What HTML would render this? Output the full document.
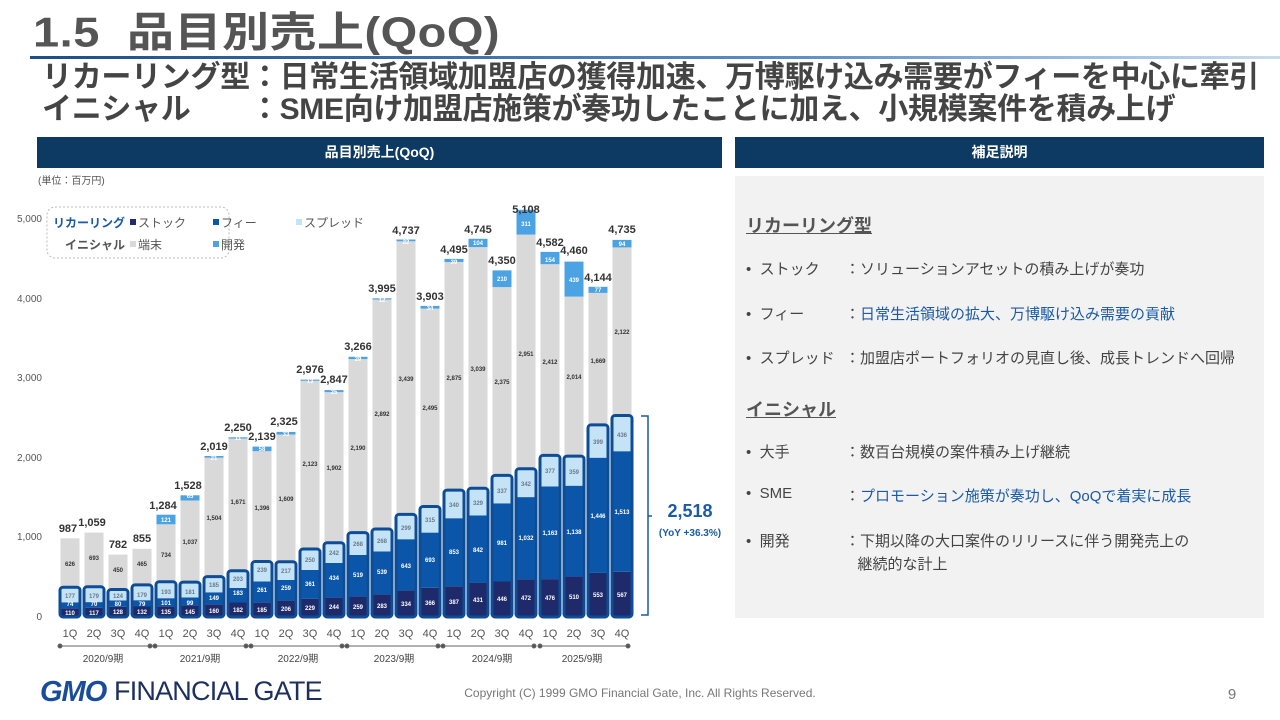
<!DOCTYPE html>
<html><head><meta charset="utf-8"><style>
*{margin:0;padding:0;box-sizing:border-box}
body{width:1280px;height:720px;background:#fff;position:relative;overflow:hidden;font-family:"Liberation Sans","Noto Sans CJK JP",sans-serif;color:#444}
.a{position:absolute;white-space:nowrap}
.hdr{position:absolute;background:#0d3a63;color:#fff;font-weight:bold;font-size:14px;text-align:center;line-height:31px}
.r{font-size:15px;color:#444}
.b{color:#1a5aa8}
</style></head><body>
<div class="a" style="left:33px;top:-2px;font-size:47px;font-weight:bold;color:#555;letter-spacing:0.5px;transform:scaleY(0.88);transform-origin:0 0">1.5&nbsp;&nbsp;品目別売上(QoQ)</div>
<div class="a" style="left:30px;top:56px;width:1250px;height:3px;background:linear-gradient(90deg,#1b4f8a,#5a8cc6 60%,#c8dcf0)"></div>
<div class="a" style="left:42px;top:62px;font-size:30px;font-weight:bold;color:#444;line-height:32px;letter-spacing:-0.3px">リカーリング型：日常生活領域加盟店の獲得加速、万博駆け込み需要がフィーを中心に牽引<br>イニシャル　　：SME向け加盟店施策が奏功したことに加え、小規模案件を積み上げ</div>
<div class="hdr" style="left:37px;top:137px;width:685px;height:31px">品目別売上(QoQ)</div>
<div class="hdr" style="left:735px;top:137px;width:529px;height:31px">補足説明</div>
<div class="a" style="left:38px;top:172px;font-size:10px;color:#555">(単位：百万円)</div>
<div class="a" style="left:735px;top:176px;width:529px;height:442px;background:#f2f2f2"></div>
<div class="a" style="left:746px;top:212px;font-size:18px;font-weight:bold;text-decoration:underline;color:#555">リカーリング型</div>
<div class="a r" style="left:746px;top:258px">•&nbsp; ストック</div><div class="a r" style="left:845px;top:258px">：ソリューションアセットの積み上げが奏功</div>
<div class="a r" style="left:746px;top:303px">•&nbsp; フィー</div><div class="a r" style="left:845px;top:303px">：<span class="b">日常生活領域の拡大、万博駆け込み需要の貢献</span></div>
<div class="a r" style="left:746px;top:347px">•&nbsp; スプレッド</div><div class="a r" style="left:845px;top:347px">：加盟店ポートフォリオの見直し後、成長トレンドへ回帰</div>
<div class="a" style="left:746px;top:396px;font-size:18px;font-weight:bold;text-decoration:underline;color:#555">イニシャル</div>
<div class="a r" style="left:746px;top:441px">•&nbsp; 大手</div><div class="a r" style="left:845px;top:441px">：数百台規模の案件積み上げ継続</div>
<div class="a r" style="left:746px;top:485px">•&nbsp; SME</div><div class="a r" style="left:845px;top:485px">：<span class="b">プロモーション施策が奏功し、QoQで着実に成長</span></div>
<div class="a r" style="left:746px;top:530px">•&nbsp; 開発</div><div class="a r" style="left:845px;top:530px;line-height:23px">：下期以降の大口案件のリリースに伴う開発売上の<br>&nbsp;&nbsp;&nbsp;継続的な計上</div>

<svg class="a" style="left:0;top:0" width="1280" height="720" font-family="Liberation Sans, Noto Sans CJK JP, sans-serif">
<g font-size="10" fill="#555" text-anchor="end">
<text x="42" y="222">5,000</text><text x="42" y="302">4,000</text><text x="42" y="381">3,000</text><text x="42" y="461">2,000</text><text x="42" y="540">1,000</text><text x="42" y="620">0</text>
</g>
<rect x="47" y="207" width="182" height="51" rx="8" fill="#fff" stroke="#bbb" stroke-dasharray="2,2"/>
<g font-size="12">
<text x="53" y="227" fill="#1a5aa8" font-weight="bold">リカーリング</text>
<rect x="130" y="219" width="6" height="6" fill="#1f2a6b"/><text x="138" y="227" fill="#555">ストック</text>
<rect x="213" y="219" width="6" height="6" fill="#0b56a8"/><text x="221" y="227" fill="#555">フィー</text>
<rect x="296" y="219" width="6" height="6" fill="#c5e3f7"/><text x="304" y="227" fill="#555">スプレッド</text>
<text x="65" y="249" fill="#555" font-weight="bold">イニシャル</text>
<rect x="130" y="241" width="6" height="6" fill="#d9d9d9"/><text x="138" y="249" fill="#555">端末</text>
<rect x="213" y="241" width="6" height="6" fill="#4ba3e3"/><text x="221" y="249" fill="#555">開発</text>
</g>
<g transform="translate(0,617) scale(1,-1)">
<g>
<rect x="60.5" y="0" width="19" height="8.8" fill="#1f2a6b"/><rect x="60.5" y="8.8" width="19" height="5.9" fill="#0b56a8"/><rect x="60.5" y="14.7" width="19" height="14.1" fill="#c5e3f7"/><rect x="60.5" y="28.8" width="19" height="49.9" fill="#d9d9d9"/>
<rect x="84.5" y="0" width="19" height="9.3" fill="#1f2a6b"/><rect x="84.5" y="9.3" width="19" height="5.6" fill="#0b56a8"/><rect x="84.5" y="14.9" width="19" height="14.3" fill="#c5e3f7"/><rect x="84.5" y="29.2" width="19" height="55.2" fill="#d9d9d9"/>
<rect x="108.5" y="0" width="19" height="10.2" fill="#1f2a6b"/><rect x="108.5" y="10.2" width="19" height="6.4" fill="#0b56a8"/><rect x="108.5" y="16.6" width="19" height="9.9" fill="#c5e3f7"/><rect x="108.5" y="26.5" width="19" height="35.9" fill="#d9d9d9"/>
<rect x="132.5" y="0" width="19" height="10.5" fill="#1f2a6b"/><rect x="132.5" y="10.5" width="19" height="6.3" fill="#0b56a8"/><rect x="132.5" y="16.8" width="19" height="14.3" fill="#c5e3f7"/><rect x="132.5" y="31.1" width="19" height="37.1" fill="#d9d9d9"/>
<rect x="156.5" y="0" width="19" height="10.8" fill="#1f2a6b"/><rect x="156.5" y="10.8" width="19" height="8" fill="#0b56a8"/><rect x="156.5" y="18.8" width="19" height="15.4" fill="#c5e3f7"/><rect x="156.5" y="34.2" width="19" height="58.5" fill="#d9d9d9"/><rect x="156.5" y="92.7" width="19" height="9.6" fill="#4ba3e3"/>
<rect x="180.5" y="0" width="19" height="11.6" fill="#1f2a6b"/><rect x="180.5" y="11.6" width="19" height="7.9" fill="#0b56a8"/><rect x="180.5" y="19.5" width="19" height="14.4" fill="#c5e3f7"/><rect x="180.5" y="33.9" width="19" height="82.6" fill="#d9d9d9"/><rect x="180.5" y="116.5" width="19" height="5.2" fill="#4ba3e3"/>
<rect x="204.5" y="0" width="19" height="12.8" fill="#1f2a6b"/><rect x="204.5" y="12.8" width="19" height="11.9" fill="#0b56a8"/><rect x="204.5" y="24.7" width="19" height="14.7" fill="#c5e3f7"/><rect x="204.5" y="39.4" width="19" height="119.9" fill="#d9d9d9"/><rect x="204.5" y="159.3" width="19" height="1.7" fill="#4ba3e3"/>
<rect x="228.5" y="0" width="19" height="14.5" fill="#1f2a6b"/><rect x="228.5" y="14.5" width="19" height="14.6" fill="#0b56a8"/><rect x="228.5" y="29.1" width="19" height="16.2" fill="#c5e3f7"/><rect x="228.5" y="45.3" width="19" height="133.2" fill="#d9d9d9"/><rect x="228.5" y="178.5" width="19" height="1.2" fill="#4ba3e3"/>
<rect x="252.5" y="0" width="19" height="14.7" fill="#1f2a6b"/><rect x="252.5" y="14.7" width="19" height="20.8" fill="#0b56a8"/><rect x="252.5" y="35.5" width="19" height="19" fill="#c5e3f7"/><rect x="252.5" y="54.5" width="19" height="111.3" fill="#d9d9d9"/><rect x="252.5" y="165.8" width="19" height="4.6" fill="#4ba3e3"/>
<rect x="276.5" y="0" width="19" height="16.4" fill="#1f2a6b"/><rect x="276.5" y="16.4" width="19" height="20.6" fill="#0b56a8"/><rect x="276.5" y="37" width="19" height="17.3" fill="#c5e3f7"/><rect x="276.5" y="54.3" width="19" height="128.2" fill="#d9d9d9"/><rect x="276.5" y="182.5" width="19" height="2.6" fill="#4ba3e3"/>
<rect x="300.5" y="0" width="19" height="18.3" fill="#1f2a6b"/><rect x="300.5" y="18.3" width="19" height="28.8" fill="#0b56a8"/><rect x="300.5" y="47.1" width="19" height="19.9" fill="#c5e3f7"/><rect x="300.5" y="67" width="19" height="169.2" fill="#d9d9d9"/><rect x="300.5" y="236.2" width="19" height="1.2" fill="#4ba3e3"/>
<rect x="324.5" y="0" width="19" height="19.4" fill="#1f2a6b"/><rect x="324.5" y="19.4" width="19" height="34.6" fill="#0b56a8"/><rect x="324.5" y="54" width="19" height="19.3" fill="#c5e3f7"/><rect x="324.5" y="73.3" width="19" height="151.6" fill="#d9d9d9"/><rect x="324.5" y="224.9" width="19" height="2" fill="#4ba3e3"/>
<rect x="348.5" y="0" width="19" height="20.6" fill="#1f2a6b"/><rect x="348.5" y="20.6" width="19" height="41.4" fill="#0b56a8"/><rect x="348.5" y="62" width="19" height="21.4" fill="#c5e3f7"/><rect x="348.5" y="83.4" width="19" height="174.5" fill="#d9d9d9"/><rect x="348.5" y="257.9" width="19" height="2.3" fill="#4ba3e3"/>
<rect x="372.5" y="0" width="19" height="22.6" fill="#1f2a6b"/><rect x="372.5" y="22.6" width="19" height="43" fill="#0b56a8"/><rect x="372.5" y="65.6" width="19" height="21.4" fill="#c5e3f7"/><rect x="372.5" y="87" width="19" height="230.5" fill="#d9d9d9"/><rect x="372.5" y="317.5" width="19" height="1.2" fill="#4ba3e3"/>
<rect x="396.5" y="0" width="19" height="26.6" fill="#1f2a6b"/><rect x="396.5" y="26.6" width="19" height="51.2" fill="#0b56a8"/><rect x="396.5" y="77.8" width="19" height="23.8" fill="#c5e3f7"/><rect x="396.5" y="101.6" width="19" height="274.1" fill="#d9d9d9"/><rect x="396.5" y="375.7" width="19" height="1.8" fill="#4ba3e3"/>
<rect x="420.5" y="0" width="19" height="29.2" fill="#1f2a6b"/><rect x="420.5" y="29.2" width="19" height="55.2" fill="#0b56a8"/><rect x="420.5" y="84.4" width="19" height="25.1" fill="#c5e3f7"/><rect x="420.5" y="109.5" width="19" height="198.9" fill="#d9d9d9"/><rect x="420.5" y="308.4" width="19" height="2.7" fill="#4ba3e3"/>
<rect x="444.5" y="0" width="19" height="30.8" fill="#1f2a6b"/><rect x="444.5" y="30.8" width="19" height="68" fill="#0b56a8"/><rect x="444.5" y="98.8" width="19" height="27.1" fill="#c5e3f7"/><rect x="444.5" y="125.9" width="19" height="229.1" fill="#d9d9d9"/><rect x="444.5" y="355" width="19" height="3.1" fill="#4ba3e3"/>
<rect x="468.5" y="0" width="19" height="34.4" fill="#1f2a6b"/><rect x="468.5" y="34.4" width="19" height="67.1" fill="#0b56a8"/><rect x="468.5" y="101.5" width="19" height="26.2" fill="#c5e3f7"/><rect x="468.5" y="127.7" width="19" height="242.2" fill="#d9d9d9"/><rect x="468.5" y="369.9" width="19" height="8.3" fill="#4ba3e3"/>
<rect x="492.5" y="0" width="19" height="35.5" fill="#1f2a6b"/><rect x="492.5" y="35.5" width="19" height="78.2" fill="#0b56a8"/><rect x="492.5" y="113.7" width="19" height="26.9" fill="#c5e3f7"/><rect x="492.5" y="140.6" width="19" height="189.3" fill="#d9d9d9"/><rect x="492.5" y="329.9" width="19" height="16.7" fill="#4ba3e3"/>
<rect x="516.5" y="0" width="19" height="37.6" fill="#1f2a6b"/><rect x="516.5" y="37.6" width="19" height="82.3" fill="#0b56a8"/><rect x="516.5" y="119.9" width="19" height="27.3" fill="#c5e3f7"/><rect x="516.5" y="147.2" width="19" height="235.2" fill="#d9d9d9"/><rect x="516.5" y="382.4" width="19" height="24.8" fill="#4ba3e3"/>
<rect x="540.5" y="0" width="19" height="37.9" fill="#1f2a6b"/><rect x="540.5" y="37.9" width="19" height="92.7" fill="#0b56a8"/><rect x="540.5" y="130.6" width="19" height="30" fill="#c5e3f7"/><rect x="540.5" y="160.6" width="19" height="192.2" fill="#d9d9d9"/><rect x="540.5" y="352.8" width="19" height="12.3" fill="#4ba3e3"/>
<rect x="564.5" y="0" width="19" height="40.6" fill="#1f2a6b"/><rect x="564.5" y="40.6" width="19" height="90.7" fill="#0b56a8"/><rect x="564.5" y="131.3" width="19" height="28.6" fill="#c5e3f7"/><rect x="564.5" y="159.9" width="19" height="160.5" fill="#d9d9d9"/><rect x="564.5" y="320.4" width="19" height="35" fill="#4ba3e3"/>
<rect x="588.5" y="0" width="19" height="44.1" fill="#1f2a6b"/><rect x="588.5" y="44.1" width="19" height="115.2" fill="#0b56a8"/><rect x="588.5" y="159.3" width="19" height="31.8" fill="#c5e3f7"/><rect x="588.5" y="191.1" width="19" height="133" fill="#d9d9d9"/><rect x="588.5" y="324.1" width="19" height="6.1" fill="#4ba3e3"/>
<rect x="612.5" y="0" width="19" height="45.2" fill="#1f2a6b"/><rect x="612.5" y="45.2" width="19" height="120.6" fill="#0b56a8"/><rect x="612.5" y="165.8" width="19" height="34.7" fill="#c5e3f7"/><rect x="612.5" y="200.5" width="19" height="169.1" fill="#d9d9d9"/><rect x="612.5" y="369.6" width="19" height="7.5" fill="#4ba3e3"/>
</g>
<g fill="none" stroke="#0e4d96" stroke-width="3">
<rect x="60" y="0" width="20" height="29.8" rx="3"/><rect x="84" y="0" width="20" height="30.2" rx="3"/><rect x="108" y="0" width="20" height="27.5" rx="3"/><rect x="132" y="0" width="20" height="32.1" rx="3"/>
<rect x="156" y="0" width="20" height="35.2" rx="3"/><rect x="180" y="0" width="20" height="34.9" rx="3"/><rect x="204" y="0" width="20" height="40.4" rx="3"/><rect x="228" y="0" width="20" height="46.3" rx="3"/>
<rect x="252" y="0" width="20" height="55.5" rx="3"/><rect x="276" y="0" width="20" height="55.3" rx="3"/><rect x="300" y="0" width="20" height="68" rx="3"/><rect x="324" y="0" width="20" height="74.3" rx="3"/>
<rect x="348" y="0" width="20" height="84.4" rx="3"/><rect x="372" y="0" width="20" height="88" rx="3"/><rect x="396" y="0" width="20" height="102.6" rx="3"/><rect x="420" y="0" width="20" height="110.5" rx="3"/>
<rect x="444" y="0" width="20" height="126.9" rx="3"/><rect x="468" y="0" width="20" height="128.7" rx="3"/><rect x="492" y="0" width="20" height="141.6" rx="3"/><rect x="516" y="0" width="20" height="148.2" rx="3"/>
<rect x="540" y="0" width="20" height="161.6" rx="3"/><rect x="564" y="0" width="20" height="160.9" rx="3"/><rect x="588" y="0" width="20" height="192.1" rx="3"/><rect x="612" y="0" width="20" height="201.5" rx="3"/>
</g>
</g>
<g font-size="11" fill="#333" text-anchor="middle" font-weight="bold">
<text x="68" y="532">987</text><text x="92" y="526">1,059</text><text x="118" y="548">782</text><text x="142" y="542">855</text>
<text x="163" y="509">1,284</text><text x="188" y="489">1,528</text><text x="214" y="450">2,019</text><text x="238" y="431">2,250</text>
<text x="262" y="440">2,139</text><text x="284" y="425">2,325</text><text x="310" y="373">2,976</text><text x="334" y="383">2,847</text>
<text x="358" y="350">3,266</text><text x="382" y="292">3,995</text><text x="406" y="234">4,737</text><text x="430" y="300">3,903</text>
<text x="454" y="253">4,495</text><text x="478" y="233">4,745</text><text x="502" y="264">4,350</text><text x="526" y="213">5,108</text>
<text x="550" y="246">4,582</text><text x="574" y="254">4,460</text><text x="598" y="281">4,144</text><text x="622" y="233">4,735</text>
</g>
<g font-size="6" fill="#333" text-anchor="middle" font-weight="bold">
<text x="70" y="566">626</text><text x="94" y="560">693</text><text x="118" y="572">450</text><text x="142" y="566">465</text>
<text x="166" y="557">734</text><text x="190" y="544">1,037</text><text x="214" y="520">1,504</text><text x="238" y="504">1,671</text>
<text x="262" y="510">1,396</text><text x="286" y="501">1,609</text><text x="310" y="466">2,123</text><text x="334" y="470">1,902</text>
<text x="358" y="450">2,190</text><text x="382" y="416">2,892</text><text x="406" y="381">3,439</text><text x="430" y="410">2,495</text>
<text x="454" y="380">2,875</text><text x="478" y="371">3,039</text><text x="502" y="384">2,375</text><text x="526" y="356">2,951</text>
<text x="550" y="364">2,412</text><text x="574" y="379">2,014</text><text x="598" y="363">1,669</text><text x="622" y="334">2,122</text>
</g>
<g font-size="6" fill="#fff" text-anchor="middle" font-weight="bold">
<text x="166" y="522">121</text><text x="190" y="498">65</text><text x="214" y="460">21</text><text x="238" y="440">11</text>
<text x="262" y="451">58</text><text x="286" y="436">33</text><text x="310" y="383">13</text><text x="334" y="394">25</text>
<text x="358" y="361">29</text><text x="382" y="302">12</text><text x="406" y="244">22</text><text x="430" y="310">34</text>
<text x="454" y="264">39</text><text x="478" y="245">104</text><text x="502" y="281">210</text><text x="526" y="226">311</text>
<text x="550" y="262">154</text><text x="574" y="282">439</text><text x="598" y="292">77</text><text x="622" y="246">94</text>
</g>
<g font-size="6" fill="#6a7a8a" text-anchor="middle" font-weight="bold">
<text x="70" y="598">177</text><text x="94" y="598">179</text><text x="118" y="598">124</text><text x="142" y="597">179</text>
<text x="166" y="594">193</text><text x="190" y="594">181</text><text x="214" y="587">185</text><text x="238" y="581">203</text>
<text x="262" y="572">239</text><text x="286" y="573">217</text><text x="310" y="562">250</text><text x="334" y="555">242</text>
<text x="358" y="546">268</text><text x="382" y="543">268</text><text x="406" y="530">299</text><text x="430" y="522">315</text>
<text x="454" y="507">340</text><text x="478" y="505">329</text><text x="502" y="493">337</text><text x="526" y="486">342</text>
<text x="550" y="473">377</text><text x="574" y="474">359</text><text x="598" y="444">399</text><text x="622" y="437">436</text>
</g>
<g font-size="6" fill="#fff" text-anchor="middle" font-weight="bold">
<text x="70" y="606">74</text><text x="94" y="606">70</text><text x="118" y="606">80</text><text x="142" y="606">79</text>
<text x="166" y="605">101</text><text x="190" y="605">99</text><text x="214" y="600">149</text><text x="238" y="595">183</text>
<text x="262" y="592">261</text><text x="286" y="590">259</text><text x="310" y="586">361</text><text x="334" y="580">434</text>
<text x="358" y="577">519</text><text x="382" y="574">539</text><text x="406" y="568">643</text><text x="430" y="562">693</text>
<text x="454" y="554">853</text><text x="478" y="552">842</text><text x="502" y="545">981</text><text x="526" y="540">1,032</text>
<text x="550" y="535">1,163</text><text x="574" y="534">1,138</text><text x="598" y="518">1,446</text><text x="622" y="514">1,513</text>
<text x="70" y="615">110</text><text x="94" y="615">117</text><text x="118" y="614">128</text><text x="142" y="614">132</text>
<text x="166" y="614">135</text><text x="190" y="614">145</text><text x="214" y="613">160</text><text x="238" y="612">182</text>
<text x="262" y="612">185</text><text x="286" y="611">206</text><text x="310" y="610">229</text><text x="334" y="609">244</text>
<text x="358" y="609">259</text><text x="382" y="608">283</text><text x="406" y="606">334</text><text x="430" y="605">366</text>
<text x="454" y="604">387</text><text x="478" y="602">431</text><text x="502" y="601">446</text><text x="526" y="600">472</text>
<text x="550" y="600">476</text><text x="574" y="599">510</text><text x="598" y="597">553</text><text x="622" y="597">567</text>
</g>
<g font-size="11" fill="#555" text-anchor="middle">
<text x="70" y="637">1Q</text><text x="94" y="637">2Q</text><text x="118" y="637">3Q</text><text x="142" y="637">4Q</text>
<text x="166" y="637">1Q</text><text x="190" y="637">2Q</text><text x="214" y="637">3Q</text><text x="238" y="637">4Q</text>
<text x="262" y="637">1Q</text><text x="286" y="637">2Q</text><text x="310" y="637">3Q</text><text x="334" y="637">4Q</text>
<text x="358" y="637">1Q</text><text x="382" y="637">2Q</text><text x="406" y="637">3Q</text><text x="430" y="637">4Q</text>
<text x="454" y="637">1Q</text><text x="478" y="637">2Q</text><text x="502" y="637">3Q</text><text x="526" y="637">4Q</text>
<text x="550" y="637">1Q</text><text x="574" y="637">2Q</text><text x="598" y="637">3Q</text><text x="622" y="637">4Q</text>
</g>
<g stroke="#666" stroke-width="1" fill="#555">
<line x1="60" y1="646" x2="150" y2="646"/><line x1="155" y1="646" x2="246" y2="646"/><line x1="251" y1="646" x2="342" y2="646"/>
<line x1="347" y1="646" x2="438" y2="646"/><line x1="443" y1="646" x2="534" y2="646"/><line x1="540" y1="646" x2="628" y2="646"/>
<circle cx="60" cy="646" r="2"/><circle cx="150" cy="646" r="2"/><circle cx="155" cy="646" r="2"/><circle cx="246" cy="646" r="2"/>
<circle cx="251" cy="646" r="2"/><circle cx="342" cy="646" r="2"/><circle cx="347" cy="646" r="2"/><circle cx="438" cy="646" r="2"/>
<circle cx="443" cy="646" r="2"/><circle cx="534" cy="646" r="2"/><circle cx="540" cy="646" r="2"/><circle cx="628" cy="646" r="2"/>
</g>
<g font-size="10" fill="#444" text-anchor="middle">
<text x="103" y="662">2020/9期</text><text x="200" y="662">2021/9期</text><text x="298" y="662">2022/9期</text>
<text x="394" y="662">2023/9期</text><text x="492" y="662">2024/9期</text><text x="582" y="662">2025/9期</text>
</g>
<path d="M641 416 H648 V615 H641 M648 516 H652" fill="none" stroke="#1a5aa8" stroke-width="1.5"/>
<text x="690" y="517" font-size="18" font-weight="bold" fill="#1a5aa8" text-anchor="middle">2,518</text>
<text x="690" y="536" font-size="10" font-weight="bold" fill="#1a5aa8" text-anchor="middle">(YoY +36.3%)</text>
<text x="40" y="701" font-size="29" font-weight="bold" font-style="italic" fill="#1a4c9c" letter-spacing="-1">GMO</text>
<text x="114" y="700" font-size="27" fill="#1c2f5e" letter-spacing="-0.8">FINANCIAL GATE</text>
<text x="640" y="697" font-size="12" fill="#777" text-anchor="middle">Copyright (C) 1999 GMO Financial Gate, Inc. All Rights Reserved.</text>
<text x="1232" y="699" font-size="15" fill="#777" text-anchor="middle">9</text>
</svg>
</body></html>
